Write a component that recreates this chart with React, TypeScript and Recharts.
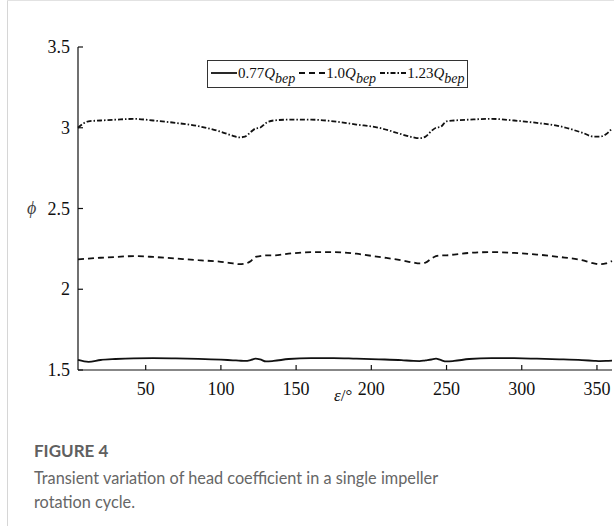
import React from 'react';
import { LineChart, Line, XAxis, YAxis } from 'recharts';

const angles = [5, 12, 20, 30, 42, 55, 70, 85, 100, 108, 112, 116, 120, 123, 126, 130, 135, 145, 160, 175, 190, 205, 220, 228, 232, 236, 240, 243, 246, 250, 255, 265, 280, 295, 310, 325, 340, 348, 352, 356, 360];

const q077 = [1.562, 1.55, 1.562, 1.568, 1.572, 1.573, 1.572, 1.569, 1.564, 1.56, 1.558, 1.556, 1.562, 1.57, 1.566, 1.553, 1.556, 1.568, 1.574, 1.574, 1.57, 1.566, 1.561, 1.556, 1.555, 1.56, 1.565, 1.57, 1.562, 1.553, 1.556, 1.568, 1.574, 1.573, 1.57, 1.566, 1.561, 1.557, 1.555, 1.556, 1.558];

const q100 = [2.185, 2.19, 2.195, 2.2, 2.205, 2.2, 2.19, 2.18, 2.17, 2.16, 2.155, 2.158, 2.175, 2.2, 2.205, 2.21, 2.21, 2.22, 2.23, 2.23, 2.22, 2.2, 2.18, 2.165, 2.16, 2.165, 2.19, 2.205, 2.21, 2.21, 2.215, 2.225, 2.23, 2.225, 2.215, 2.2, 2.18, 2.16, 2.155, 2.16, 2.175];

const q123 = [3.0, 3.04, 3.045, 3.05, 3.055, 3.045, 3.03, 3.01, 2.975, 2.95, 2.94, 2.945, 2.975, 2.995, 3.0, 3.03, 3.045, 3.05, 3.05, 3.04, 3.02, 3.0, 2.96, 2.94, 2.935, 2.945, 2.98, 3.0, 3.005, 3.04, 3.045, 3.05, 3.055, 3.045, 3.03, 3.01, 2.97, 2.945, 2.945, 2.96, 2.995];

const xTicks = [50, 100, 150, 200, 250, 300, 350];
const yTicks = [1.5, 2, 2.5, 3, 3.5];

const data = angles.map((a, i) => ({ angle: a, q077: q077[i], q100: q100[i], q123: q123[i] }));

const series = [
  { key: 'q077', num: '0.77', dash: undefined as string | undefined },
  { key: 'q100', num: '1.0', dash: '6 4' },
  { key: 'q123', num: '1.23', dash: '5 2 1.5 2' }
];

const serif = 'Liberation Serif, Times New Roman, serif';
const sans = 'Lato, "Open Sans", sans-serif';
const ink = '#111';

const XTick = ({ x, y, payload }: any) => (
  <text x={x} y={y} dy={17} textAnchor="middle" style={{ fill: ink, fontSize: 18, fontFamily: serif }}>
    {payload.value}
  </text>
);

const YTick = ({ x, y, payload }: any) => (
  <text x={x} y={y} dy={6} textAnchor="end" style={{ fill: ink, fontSize: 18, fontFamily: serif }}>
    {payload.value}
  </text>
);

// legend drawn as an overlay so it does not eat into the plot height
const LegendBox = () => (
  <div style={{ position: 'absolute', left: 207, top: 60, display: 'flex', alignItems: 'center', border: '1px solid #333', padding: '2px 3px 4px 3px', background: '#fff', fontFamily: serif, fontSize: 15, color: ink, whiteSpace: 'nowrap', lineHeight: '20px' }}>
    {series.map((s, i) => (
      <span key={s.key} style={{ display: 'inline-flex', alignItems: 'center', marginRight: i < 2 ? 4 : 0 }}>
        <svg width={26} height={10} style={{ marginRight: 1 }}>
          <line x1={0} y1={5} x2={26} y2={5} stroke={ink} strokeWidth={1.8} strokeDasharray={s.dash} />
        </svg>
        <span>
          {s.num}
          <i>Q</i>
          <sub style={{ fontSize: 14, verticalAlign: -5, lineHeight: 0 }}><i>bep</i></sub>
        </span>
      </span>
    ))}
  </div>
);

export default function App() {
  return (
    <div style={{ position: 'fixed', left: 0, top: 0, width: 614, height: 526, background: '#fff', overflow: 'hidden' }}>
      <div style={{ position: 'absolute', left: 7, top: 0, width: 1, height: 526, background: '#d6d6d6' }} />
      <div style={{ position: 'absolute', left: 7, top: 0, width: 607, height: 1, background: '#e2e2e2' }} />
      <LineChart width={614} height={410} data={data} margin={{ top: 47, right: 2, left: 0, bottom: 0 }} style={{ position: 'absolute', left: 0, top: 0 }}>
        <XAxis
          dataKey="angle"
          type="number"
          domain={[5, 360]}
          ticks={xTicks}
          height={40}
          axisLine={{ stroke: ink, strokeWidth: 1.2 }}
          tickLine={{ stroke: ink, strokeWidth: 1.2 }}
          tickSize={-5}
          tickMargin={13}
          tick={XTick}
        />
        <YAxis
          type="number"
          domain={[1.5, 3.5]}
          ticks={yTicks}
          width={78}
          axisLine={{ stroke: ink, strokeWidth: 1.2 }}
          tickLine={{ stroke: ink, strokeWidth: 1.2 }}
          tickSize={-5}
          tickMargin={13}
          tick={YTick}
        />
        {series.map((s) => (
          <Line
            key={s.key}
            dataKey={s.key}
            type="monotone"
            stroke={ink}
            strokeWidth={1.8}
            strokeDasharray={s.dash}
            dot={false}
            activeDot={false}
            isAnimationActive={false}
          />
        ))}
      </LineChart>
      <LegendBox />
      <div style={{ position: 'absolute', left: 27, top: 198, fontFamily: serif, fontStyle: 'italic', fontSize: 18, color: '#444' }}>ϕ</div>
      <div style={{ position: 'absolute', left: 334, top: 386, fontFamily: serif, fontSize: 17, color: ink }}>
        <i>ε</i>/°
      </div>
      <div style={{ position: 'absolute', left: 34, top: 440, fontFamily: sans, fontSize: 17, fontWeight: 700, color: '#606060' }}>FIGURE 4</div>
      <div style={{ position: 'absolute', left: 34, top: 466, width: 450, fontFamily: sans, fontSize: 16.3, lineHeight: '24px', color: '#666' }}>
        Transient variation of head coefficient in a single impeller rotation cycle.
      </div>
    </div>
  );
}
